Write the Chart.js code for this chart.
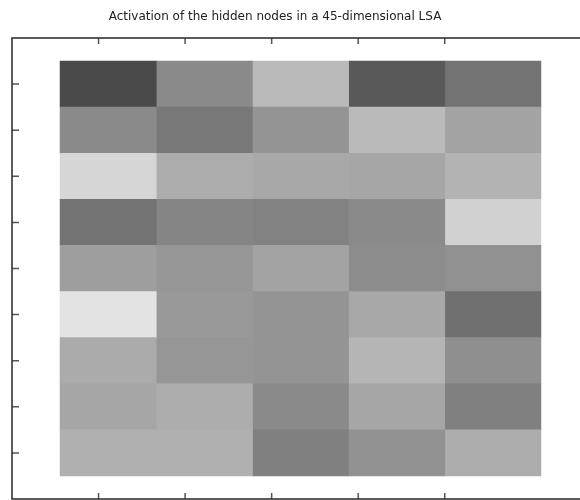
<!DOCTYPE html>
<html>
<head>
<meta charset="utf-8">
<title>Activation of the hidden nodes</title>
<script src="https://cdn.jsdelivr.net/npm/chart.js@4/dist/chart.umd.min.js"></script>
<style>
  html, body { margin: 0; padding: 0; background: #fff; overflow: hidden; }
  #wrap { width: 580px; height: 500px; overflow: hidden; }
</style>
</head>
<body>
<div id="wrap"><canvas id="lsaChart" width="600" height="500"></canvas></div>
<script>
"use strict"

// activation of each hidden node (rows, top to bottom) per LSA column
var hiddenNodes = [0, 1, 2, 3, 4, 5, 6, 7, 8];
var dim1 = [0.29, 0.54, 0.84, 0.45, 0.62, 0.89, 0.67, 0.65, 0.69];
var dim2 = [0.54, 0.47, 0.68, 0.52, 0.59, 0.60, 0.59, 0.68, 0.69];
var dim3 = [0.73, 0.58, 0.66, 0.51, 0.64, 0.58, 0.58, 0.54, 0.50];
var dim4 = [0.35, 0.73, 0.65, 0.54, 0.55, 0.66, 0.71, 0.65, 0.57];
var dim5 = [0.45, 0.64, 0.70, 0.82, 0.57, 0.44, 0.56, 0.50, 0.68];
var columns = [dim1, dim2, dim3, dim4, dim5];

// x tick marks (no labels)
var xTicks = [0.4, 1.3, 2.2, 3.1, 4.0];

var titleText = 'Activation of the hidden nodes in a 45-dimensional LSA';

function grey(v) {
    var g = Math.round(v * 255);
    return 'rgb(' + g + ',' + g + ',' + g + ')';
}

// one floating-bar dataset per column, each cell spans [c, c+1] on its row
var datasets = columns.map(function(col, c) {
    return {
        data: col.map(function(v, j) { return { x: [c, c + 1], y: hiddenNodes[j] }; }),
        backgroundColor: col.map(grey),
        borderWidth: 0,
        barPercentage: 1,
        categoryPercentage: 1,
        grouped: false
    };
});

// frame, inward ticks and title
var framePlugin = {
    id: 'frame',
    afterDraw: function(chart) {
        var ctx = chart.ctx;
        var a = chart.chartArea;
        var xs = chart.scales.x;
        var ys = chart.scales.y;
        ctx.save();

        ctx.strokeStyle = '#555';
        ctx.lineWidth = 1.5;
        ctx.beginPath();
        xs.ticks.forEach(function(t) {
            var px = xs.getPixelForValue(t.value);
            ctx.moveTo(px, a.top); ctx.lineTo(px, a.top + 6);
            ctx.moveTo(px, a.bottom); ctx.lineTo(px, a.bottom - 6);
        });
        ys.ticks.forEach(function(t) {
            var py = ys.getPixelForValue(t.value);
            ctx.moveTo(a.left, py); ctx.lineTo(a.left + 7, py);
            ctx.moveTo(a.right, py); ctx.lineTo(a.right - 7, py);
        });
        ctx.stroke();

        ctx.strokeStyle = '#333';
        ctx.lineWidth = 1.6;
        ctx.strokeRect(a.left, a.top, a.right - a.left, a.bottom - a.top);

        ctx.fillStyle = '#222';
        ctx.font = '12px "DejaVu Sans"';
        ctx.textAlign = 'center';
        ctx.textBaseline = 'alphabetic';
        ctx.fillText(titleText, 275, 20);
        ctx.restore();
    }
};

new Chart(document.getElementById('lsaChart'), {
    type: 'bar',
    data: {
        datasets: datasets
    },
    options: {
        responsive: false,
        animation: false,
        indexAxis: 'y',
        layout: {
            padding: { left: 12, top: 38, right: 11, bottom: 1 }
        },
        plugins: {
            legend: { display: false },
            tooltip: { enabled: false },
            title: { display: false }
        },
        scales: {
            x: {
                type: 'linear',
                display: false,
                min: -0.5,
                max: 5.5,
                afterBuildTicks: function(scale) {
                    scale.ticks = xTicks.map(function(v) { return { value: v }; });
                }
            },
            y: {
                type: 'linear',
                display: false,
                reverse: true,
                offset: false,
                min: -1,
                max: 9,
                afterBuildTicks: function(scale) {
                    scale.ticks = hiddenNodes.map(function(v) { return { value: v }; });
                }
            }
        }
    },
    plugins: [framePlugin]
});
</script>
</body>
</html>
